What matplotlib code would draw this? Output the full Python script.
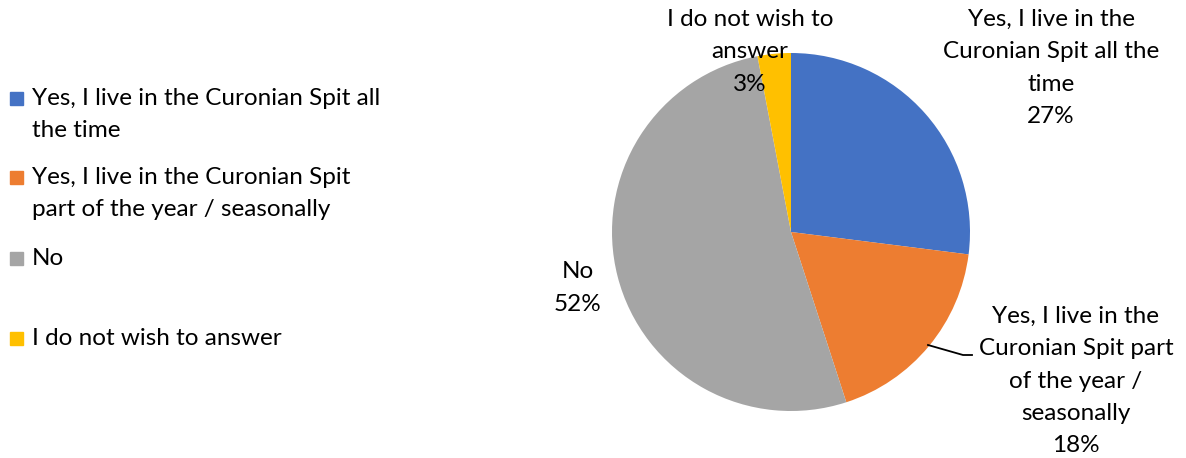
import matplotlib.pyplot as plt
from matplotlib.patches import Rectangle

plt.rcParams['font.family'] = ['Lato', 'DejaVu Sans']

# data
categories = ['Yes, I live in the Curonian Spit all the time',
              'Yes, I live in the Curonian Spit part of the year / seasonally',
              'No',
              'I do not wish to answer']
legend_labels = ['Yes, I live in the Curonian Spit all\nthe time',
                 'Yes, I live in the Curonian Spit\npart of the year / seasonally',
                 'No',
                 'I do not wish to answer']
slice_labels = ['Yes, I live in the\nCuronian Spit all the\ntime',
                'Yes, I live in the\nCuronian Spit part\nof the year /\nseasonally',
                'No',
                'I do not wish to\nanswer']
shares = [27, 18, 52, 3]
colors = ['#4472C4', '#ED7D31', '#A5A5A5', '#FFC000']

W, H = 1186, 458
fig = plt.figure(figsize=(W / 100, H / 100), dpi=100)

# pie axes, placed in pixels
cx, cy, r = 791, 232, 179
ax = fig.add_axes([(cx - r) / W, (H - cy - r) / H, 2 * r / W, 2 * r / H])
ax.pie(shares, colors=colors, startangle=90, counterclock=False, radius=1,
       wedgeprops=dict(linewidth=0))
ax.set_xlim(-1, 1)
ax.set_ylim(-1, 1)
ax.set_aspect('equal')
ax.axis('off')

def px(x, y):
    return (x - cx) / r, (cy - y) / r

# data labels (Excel-like placement)
label_pos = [(1051, 68), (1076, 381), (578, 288), (750, 52)]
for lab, val, (lx, ly) in zip(slice_labels, shares, label_pos):
    x, y = px(lx, ly)
    ax.text(x, y, f'{lab}\n{val}%', ha='center', va='center', fontsize=17.5,
            linespacing=1.66, color='#000000')

# leader line for orange slice
pts = [px(928, 345), px(963, 355), px(972, 355)]
ax.plot([p[0] for p in pts], [p[1] for p in pts], color='black', lw=1.3,
        clip_on=False)

# legend drawn by hand
leg_y = [98, 177, 258, 338]
for lab, col, y in zip(legend_labels, colors, leg_y):
    fig.patches.append(Rectangle((10 / W, (H - y - 6.5) / H), 13 / W, 13 / H,
                                 transform=fig.transFigure, color=col))
    fig.text(32 / W, (H - y + 10) / H, lab, ha='left', va='top', fontsize=17.5,
             linespacing=1.62, transform=fig.transFigure)

fig.savefig('out.png', dpi=100)
